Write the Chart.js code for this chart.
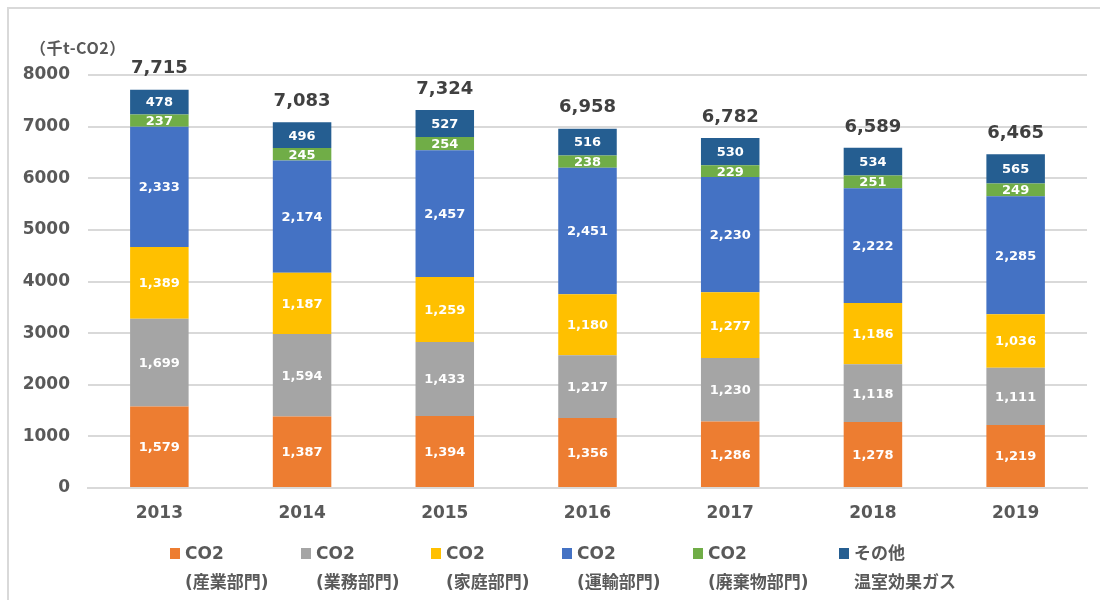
<!DOCTYPE html>
<html>
<head>
<meta charset="utf-8">
<script src="https://cdn.jsdelivr.net/npm/chart.js@4"></script>
<style>
  html, body { margin: 0; padding: 0; background: #fff; }
  #wrap { position: relative; width: 1100px; height: 600px; overflow: hidden; }
  #frame { position: absolute; left: 7px; top: 7px; width: 1200px; height: 700px;
    border-top: 2px solid #d9d9d9; border-left: 2px solid #d9d9d9; }
  #unit { position: absolute; left: 30px; top: 35px; font: bold 16px "Noto Sans CJK JP", sans-serif; color: #595959; letter-spacing: 0.5px; }
  canvas { position: absolute; left: 0; top: 0; }
  .lg { position: absolute; top: 539px; font: bold 17px "DejaVu Sans", "Noto Sans CJK JP", sans-serif; color: #595959; line-height: 29px; white-space: nowrap; }
  .lg i { position: absolute; left: -15px; top: 9px; width: 10px; height: 11px; }
</style>
</head>
<body>
<div id="wrap">
  <div id="frame"></div>
  <canvas id="c" width="1100" height="600"></canvas>
  <div id="unit">（千t-CO2）</div>
  <div id="legend"></div>
</div>
<script>
const years = ["2013", "2014", "2015", "2016", "2017", "2018", "2019"];
const industry = [1579, 1387, 1394, 1356, 1286, 1278, 1219];
const business = [1699, 1594, 1433, 1217, 1230, 1118, 1111];
const household = [1389, 1187, 1259, 1180, 1277, 1186, 1036];
const transport = [2333, 2174, 2457, 2451, 2230, 2222, 2285];
const waste = [237, 245, 254, 238, 229, 251, 249];
const otherGas = [478, 496, 527, 516, 530, 534, 565];
const totals = [7715, 7083, 7324, 6958, 6782, 6589, 6465];
const yTicks = [0, 1000, 2000, 3000, 4000, 5000, 6000, 7000, 8000];

const series = [
  { line1: "CO2", line2: "(産業部門)", data: industry, color: "#ED7D31" },
  { line1: "CO2", line2: "(業務部門)", data: business, color: "#A5A5A5" },
  { line1: "CO2", line2: "(家庭部門)", data: household, color: "#FFC000" },
  { line1: "CO2", line2: "(運輸部門)", data: transport, color: "#4472C4" },
  { line1: "CO2", line2: "(廃棄物部門)", data: waste, color: "#70AD47" },
  { line1: "その他", line2: "温室効果ガス", data: otherGas, color: "#255E91" },
];
const legendX = [185, 316, 446, 577, 708, 854];

const fmt = (v) => v.toLocaleString("en-US");
const numFont = "DejaVu Sans";

// labels inside segments and totals above bars
const labelsPlugin = {
  id: "labels",
  afterDatasetsDraw(chart) {
    const ctx = chart.ctx;
    ctx.save();
    ctx.textAlign = "center";
    ctx.textBaseline = "middle";
    ctx.font = "bold 13px " + numFont;
    ctx.fillStyle = "#fff";
    chart.data.datasets.forEach((ds, i) => {
      chart.getDatasetMeta(i).data.forEach((bar, j) => {
        ctx.fillText(fmt(ds.data[j]), bar.x, (bar.y + bar.base) / 2 + 1);
      });
    });
    const top = chart.getDatasetMeta(chart.data.datasets.length - 1).data;
    ctx.font = "bold 18px " + numFont;
    ctx.fillStyle = "#404040";
    top.forEach((bar, j) => {
      ctx.fillText(fmt(totals[j]), bar.x, bar.y - 21);
    });
    ctx.restore();
  },
};

new Chart(document.getElementById("c"), {
  type: "bar",
  data: {
    labels: years,
    datasets: series.map(s => ({
      label: s.line1 + " " + s.line2,
      data: s.data,
      backgroundColor: s.color,
      barPercentage: 0.41,
      categoryPercentage: 1,
    })),
  },
  options: {
    responsive: false,
    animation: false,
    devicePixelRatio: 1,
    layout: { padding: { left: 0, right: 13, top: 75, bottom: 72 } },
    plugins: { legend: { display: false }, tooltip: { enabled: false } },
    scales: {
      x: {
        stacked: true,
        grid: { display: false, drawTicks: false },
        border: { color: "#d9d9d9", width: 2 },
        ticks: { color: "#595959", font: { family: numFont, size: 17, weight: "bold" }, padding: 15 },
        afterFit(s) { s.height = 40; },
      },
      y: {
        stacked: true,
        min: 0,
        max: 8000,
        afterBuildTicks(s) { s.ticks = yTicks.map(v => ({ value: v })); },
        grid: { color: "#d9d9d9", lineWidth: 2, drawTicks: false },
        border: { display: false },
        ticks: {
          color: "#595959",
          font: { family: numFont, size: 17, weight: "bold" },
          padding: 18,
          callback: (v) => String(v),
        },
        afterFit(s) { s.width = 88; },
      },
    },
  },
  plugins: [labelsPlugin],
});

// two-line legend under the chart
const legendEl = document.getElementById("legend");
series.forEach((s, i) => {
  const d = document.createElement("div");
  d.className = "lg";
  d.style.left = legendX[i] + "px";
  d.innerHTML = `<i style="background:${s.color}"></i>${s.line1}<br>${s.line2}`;
  legendEl.appendChild(d);
});
</script>
</body>
</html>
